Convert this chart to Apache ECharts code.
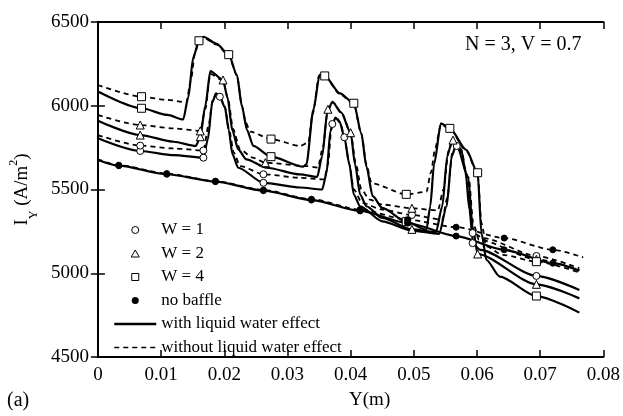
<!DOCTYPE html>
<html><head><meta charset="utf-8">
<script src="https://cdn.jsdelivr.net/npm/echarts@6/dist/echarts.min.js"></script>
<style>html,body{margin:0;padding:0;background:#fff}#c{width:623px;height:416px}</style>
</head><body><div id="c"></div>
<script>
// tick labels
const xTickLabels = ['0','0.01','0.02','0.03','0.04','0.05','0.06','0.07','0.08'];
const yTickLabels = ['4500','5000','5500','6000','6500'];

// W = 1 curves
const w1With = [[0,5806],[0.0067,5730],[0.012,5705],[0.0167,5690],[0.0174,5800],[0.0181,6020],[0.0187,6074],[0.0193,6054],[0.0201,5990],[0.0207,5855],[0.0213,5710],[0.0222,5630],[0.0262,5540],[0.032,5512],[0.0355,5500],[0.0362,5600],[0.0368,5850],[0.0376,5930],[0.0383,5900],[0.039,5812],[0.0398,5650],[0.0405,5470],[0.0415,5400],[0.045,5310],[0.0497,5255],[0.054,5235],[0.0552,5400],[0.056,5700],[0.0567,5765],[0.0575,5740],[0.0582,5600],[0.0588,5380],[0.0594,5175],[0.0605,5140],[0.0694,4984],[0.0762,4900]];
const w1Without = [[0,5825],[0.0067,5762],[0.012,5745],[0.0167,5733],[0.0175,5880],[0.0182,6040],[0.0188,6068],[0.0193,6054],[0.0201,5995],[0.0208,5850],[0.0215,5720],[0.0225,5640],[0.0262,5591],[0.032,5570],[0.0358,5560],[0.0364,5650],[0.037,5880],[0.0377,5935],[0.0384,5900],[0.039,5812],[0.0398,5650],[0.0405,5500],[0.0418,5420],[0.045,5380],[0.0497,5348],[0.0545,5320],[0.0553,5450],[0.0561,5720],[0.0568,5765],[0.0576,5730],[0.0583,5580],[0.0589,5380],[0.0594,5240],[0.061,5210],[0.0694,5103],[0.0762,5030]];
// W = 2 curves
const w2With = [[0,5911],[0.0067,5825],[0.012,5785],[0.0155,5760],[0.0162,5815],[0.017,6000],[0.0178,6207],[0.0198,6154],[0.0205,6050],[0.0213,5850],[0.0222,5740],[0.0235,5680],[0.0267,5630],[0.032,5590],[0.0347,5575],[0.0355,5700],[0.0363,5960],[0.0371,6024],[0.0385,5960],[0.04,5839],[0.0407,5650],[0.0415,5470],[0.0425,5400],[0.045,5330],[0.0497,5262],[0.0535,5245],[0.0545,5400],[0.0553,5700],[0.0561,5800],[0.0568,5760],[0.0586,5576],[0.0593,5278],[0.0601,5115],[0.0694,4934],[0.0762,4850]];
const w2Without = [[0,5945],[0.0067,5885],[0.012,5865],[0.0162,5850],[0.017,5980],[0.0178,6190],[0.0198,6150],[0.0206,6040],[0.0214,5860],[0.0225,5740],[0.0245,5690],[0.0265,5660],[0.033,5640],[0.0348,5630],[0.0356,5750],[0.0364,5979],[0.0372,6020],[0.0386,5955],[0.04,5839],[0.0408,5660],[0.0417,5500],[0.043,5440],[0.045,5410],[0.0497,5388],[0.0538,5375],[0.0547,5500],[0.0555,5730],[0.0562,5795],[0.0569,5760],[0.0587,5570],[0.0594,5300],[0.0603,5200],[0.0694,5083],[0.0762,5020]];
// W = 4 curves
const w4With = [[0,6085],[0.0069,5985],[0.011,5945],[0.0135,5918],[0.0143,6050],[0.0151,6290],[0.016,6388],[0.0167,6412],[0.0188,6370],[0.0207,6305],[0.022,6185],[0.0228,5995],[0.0236,5855],[0.0246,5760],[0.0274,5696],[0.0325,5636],[0.033,5650],[0.0341,5975],[0.0351,6185],[0.0359,6178],[0.0383,6074],[0.0405,6015],[0.0417,5835],[0.0425,5636],[0.0435,5460],[0.045,5390],[0.0488,5308],[0.052,5260],[0.0526,5400],[0.0532,5650],[0.0543,5895],[0.0557,5865],[0.0583,5736],[0.0601,5600],[0.0607,5239],[0.0615,5079],[0.0636,4980],[0.0694,4864],[0.0762,4765]];
const w4Without = [[0,6124],[0.0069,6054],[0.011,6035],[0.014,6020],[0.0147,6150],[0.0154,6320],[0.016,6388],[0.0168,6405],[0.0188,6365],[0.0207,6300],[0.022,6180],[0.0228,6000],[0.0234,5900],[0.0241,5845],[0.0274,5801],[0.032,5760],[0.0333,5780],[0.034,5950],[0.035,6180],[0.0359,6175],[0.0383,6070],[0.0405,6010],[0.0417,5830],[0.0425,5650],[0.0433,5537],[0.0488,5471],[0.052,5487],[0.0527,5600],[0.0534,5750],[0.0543,5890],[0.0557,5860],[0.0583,5730],[0.0601,5595],[0.0607,5300],[0.0615,5160],[0.064,5110],[0.0694,5069],[0.0762,5005]];
// no baffle curves
const nbWith = [[0,5676],[0.0033,5642],[0.0109,5591],[0.0186,5547],[0.0262,5493],[0.0338,5437],[0.0415,5372],[0.049,5300],[0.0567,5222],[0.0643,5140],[0.072,5060],[0.0762,5015]];
const nbWithout = [[0,5680],[0.0033,5645],[0.0109,5595],[0.0186,5550],[0.0262,5497],[0.0338,5442],[0.0415,5380],[0.049,5320],[0.0567,5275],[0.0643,5210],[0.072,5140],[0.0768,5095]];

// markers
const w1Marks = [[0.0067,5730],[0.0067,5762],[0.0167,5690],[0.0167,5733],[0.0193,6054],[0.0262,5540],[0.0262,5591],[0.0371,5891],[0.039,5812],[0.0497,5348],[0.0568,5760],[0.0593,5180],[0.0593,5240],[0.0694,4984],[0.0694,5103]];
const w2Marks = [[0.0067,5825],[0.0067,5885],[0.0162,5815],[0.0162,5850],[0.0198,6154],[0.0265,5660],[0.0364,5979],[0.04,5839],[0.0497,5388],[0.0497,5262],[0.0562,5795],[0.0601,5115],[0.0694,4934],[0.0694,5083]];
const w4Marks = [[0.0069,5985],[0.0069,6054],[0.016,6388],[0.0207,6305],[0.0274,5696],[0.0274,5801],[0.0359,6178],[0.0405,6015],[0.0488,5308],[0.0488,5471],[0.0557,5865],[0.0601,5600],[0.0694,4864],[0.0694,5069]];
const nbMarks = [[0.0033,5642],[0.0109,5591],[0.0186,5547],[0.0262,5493],[0.0338,5437],[0.0415,5372],[0.049,5300],[0.0567,5222],[0.0643,5140],[0.072,5060],[0.0033,5645],[0.0109,5595],[0.0186,5550],[0.0262,5497],[0.0338,5442],[0.0415,5380],[0.049,5320],[0.0567,5275],[0.0643,5210],[0.072,5140]];

const F = 'Liberation Serif, Times New Roman, serif';
const WITH = 'with liquid water effect';
const WITHOUT = 'without liquid water effect';
const TRI_ICON = 'path://M0,0L5,8.66L-5,8.66Z';
const SQ_ICON = 'path://M0,0L10,0L10,10L0,10Z';

function lineS(name, data, dashed) {
  return {type:'line', name, data, symbol:'none', showSymbol:false, smooth:0.25, smoothMonotone:'x',
    lineStyle:{color:'#000', width: dashed ? 1.8 : 2.2, type: dashed ? [5,4] : 'solid'},
    itemStyle:{color:'#000'}, z:2, silent:true};
}
function markS(name, data, symbol, size, filled) {
  return {type:'scatter', name, data, symbol, symbolSize:size,
    itemStyle:{color: filled ? '#000' : '#fff', borderColor:'#000', borderWidth:1, opacity:1}, z:3, silent:true};
}

const chart = echarts.init(document.getElementById('c'), null, {renderer:'canvas'});
const axCommon = {axisLine:{show:true, lineStyle:{color:'#000', width:2}}, axisTick:{show:true, inside:true, length:7, lineStyle:{color:'#000', width:1.5}}, splitLine:{show:false}};
const hideDot = {color:'rgba(0,0,0,0)', borderWidth:0, borderColor:'rgba(0,0,0,0)'};
chart.setOption({
  animation:false,
  backgroundColor:'#fff',
  grid:{left:97.5, right:19, top:22, bottom:59, containLabel:false},
  xAxis:[
    Object.assign({type:'value', min:0, max:0.08, interval:0.01, position:'bottom',
      name:'Y(m)', nameLocation:'middle', nameGap:34,
      nameTextStyle:{fontFamily:F, fontSize:19, color:'#000', padding:[0,0,0,38]},
      axisLabel:{fontFamily:F, fontSize:19, color:'#000', margin:9, formatter:(v)=>xTickLabels[Math.round(v/0.01)]}}, axCommon),
    Object.assign({type:'value', min:0, max:0.08, interval:0.01, position:'top', axisLabel:{show:false}}, axCommon)
  ],
  yAxis:[
    Object.assign({type:'value', min:4500, max:6500, interval:500, position:'left',
      name:'{i|I}{s|Y}{i| (A/m}{p|2}{i|)}', nameLocation:'middle', nameGap:60, nameRotate:90,
      nameTextStyle:{fontFamily:F, fontSize:19, color:'#000',
        rich:{i:{fontFamily:F, fontSize:19, color:'#000', lineHeight:24, verticalAlign:'middle'},
              s:{fontFamily:F, fontSize:12, color:'#000', lineHeight:24, verticalAlign:'bottom', padding:[0,0,-6,0]},
              p:{fontFamily:F, fontSize:12, color:'#000', lineHeight:24, verticalAlign:'top', padding:[-2,0,0,0]}}},
      axisLabel:{fontFamily:F, fontSize:19, color:'#000', margin:9, formatter:(v)=>yTickLabels[Math.round((v-4500)/500)]}}, axCommon),
    Object.assign({type:'value', min:4500, max:6500, interval:500, position:'right', axisLabel:{show:false}}, axCommon)
  ],
  legend:{
    orient:'vertical', left:113, top:221.5, padding:0, itemGap:6.5, itemWidth:42, itemHeight:7,
    symbolKeepAspect:true,
    textStyle:{fontFamily:F, fontSize:17, color:'#000', lineHeight:17},
    data:[
      {name:'W = 1', icon:'circle', itemStyle:{color:'#fff', borderColor:'#000', borderWidth:1}},
      {name:'W = 2', icon:TRI_ICON, itemStyle:{color:'#fff', borderColor:'#000', borderWidth:1}},
      {name:'W = 4', icon:SQ_ICON, itemStyle:{color:'#fff', borderColor:'#000', borderWidth:1}},
      {name:'no baffle', icon:'circle', itemStyle:{color:'#000', borderWidth:0}},
      {name:WITH, itemStyle:hideDot, lineStyle:{color:'#000', width:2.5, type:'solid'}},
      {name:WITHOUT, itemStyle:hideDot, lineStyle:{color:'#000', width:1.5, type:[5,4]}}
    ],
    selectedMode:false
  },
  graphic:[
    {type:'text', left:465, top:35, style:{text:'N = 3, V = 0.7', fontFamily:F, fontSize:20, fill:'#000'}},
    {type:'text', left:7, top:391, style:{text:'(a)', fontFamily:F, fontSize:20, fill:'#000'}}
  ],
  series:[
    lineS(WITH, nbWith, false), lineS(WITHOUT, nbWithout, true),
    lineS(WITH, w1With, false), lineS(WITHOUT, w1Without, true),
    lineS(WITH, w2With, false), lineS(WITHOUT, w2Without, true),
    lineS(WITH, w4With, false), lineS(WITHOUT, w4Without, true),
    markS('W = 1', w1Marks, 'circle', 7, false),
    markS('W = 2', w2Marks, 'triangle', 8, false),
    markS('W = 4', w4Marks, 'rect', 8, false),
    markS('no baffle', nbMarks, 'circle', 6, true)
  ]
});
</script>
</body></html>
